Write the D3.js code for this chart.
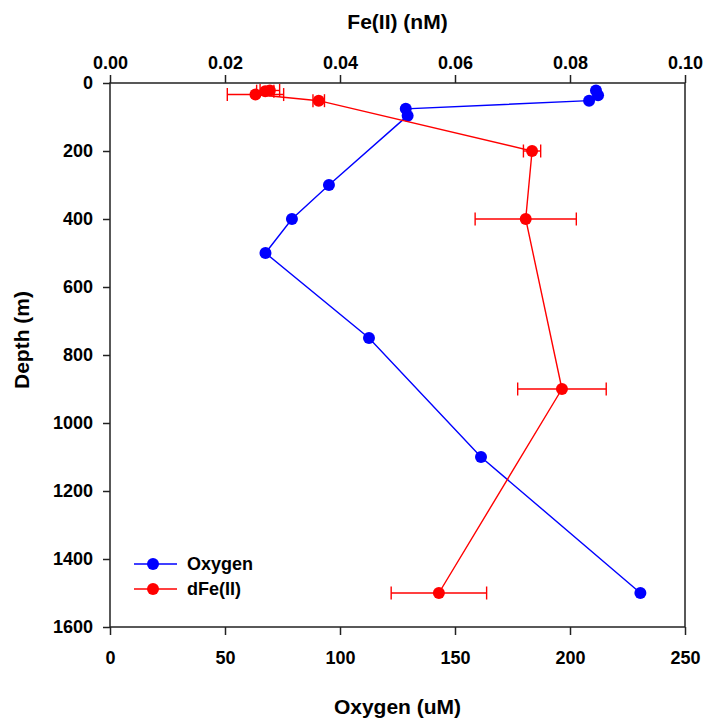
<!DOCTYPE html>
<html>
<head>
<meta charset="utf-8">
<script src="https://cdn.jsdelivr.net/npm/d3@7"></script>
<style>
  html, body { margin: 0; padding: 0; background: #fff; }
  #chart text { font-family: 'Liberation Sans', Arial, sans-serif; font-weight: bold; fill: #000; }
</style>
</head>
<body>
<div id="chart"></div>
<script>
// depth profile: oxygen (bottom axis) and dFe(II) (top axis) vs depth

const oxyDepth = [22, 36, 52, 76, 96, 300, 400, 500, 750, 1100, 1500];
const oxyValue = [211.3, 212.2, 208.3, 128.6, 129.4, 95.2, 79.1, 67.6, 112.6, 161.3, 230.6];

const feDepth = [22, 24, 34, 52, 200, 400, 900, 1500];
const feValue = [0.0278, 0.0270, 0.0253, 0.0363, 0.0734, 0.0723, 0.0786, 0.0572];
const feError = [0.0017, 0.0015, 0.0049, 0.0010, 0.0015, 0.0088, 0.0077, 0.0083];

const oxyTicks = [0, 50, 100, 150, 200, 250];
const feTicks = [0, 0.02, 0.04, 0.06, 0.08, 0.10];
const depthTicks = [0, 200, 400, 600, 800, 1000, 1200, 1400, 1600];

const seriesNames = ['Oxygen', 'dFe(II)'];
const seriesColors = ['#0000ff', '#ff0000'];

function renderProfile() {
  const W = 704, H = 719;
  const left = 110, right = 685, top = 83, bottom = 627;
  const R = 6; // marker radius

  const svg = d3.select('#chart').append('svg')
    .attr('width', W)
    .attr('height', H);

  const x = d3.scaleLinear().domain([0, 250]).range([left, right]);
  const xFe = d3.scaleLinear().domain([0, 0.1]).range([left, right]);
  const y = d3.scaleLinear().domain([0, 1600]).range([top, bottom]);

  // frame
  svg.append('rect')
    .attr('x', left).attr('y', top)
    .attr('width', right - left).attr('height', bottom - top)
    .attr('fill', 'none')
    .attr('stroke', '#222')
    .attr('stroke-width', 1.5);

  // axes
  const axisStyle = g => {
    g.select('.domain').remove();
    g.selectAll('.tick line').attr('stroke', '#222').attr('stroke-width', 1.5);
    g.selectAll('.tick text').style('font-size', '18px');
  };

  svg.append('g')
    .attr('transform', `translate(0,${bottom})`)
    .call(d3.axisBottom(x).tickValues(oxyTicks).tickSize(8).tickPadding(16).tickFormat(d3.format('d')))
    .call(axisStyle);

  svg.append('g')
    .attr('transform', `translate(0,${top})`)
    .call(d3.axisTop(xFe).tickValues(feTicks).tickSize(8).tickPadding(6).tickFormat(d3.format('.2f')))
    .call(axisStyle);

  svg.append('g')
    .attr('transform', `translate(${left},0)`)
    .call(d3.axisLeft(y).tickValues(depthTicks).tickSize(7).tickPadding(10).tickFormat(d3.format('d')))
    .call(axisStyle);

  // axis titles
  svg.append('text')
    .attr('x', (left + right) / 2).attr('y', 29)
    .attr('text-anchor', 'middle')
    .style('font-size', '21px')
    .text('Fe(II) (nM)');

  svg.append('text')
    .attr('x', (left + right) / 2).attr('y', 714)
    .attr('text-anchor', 'middle')
    .style('font-size', '21px')
    .text('Oxygen (uM)');

  svg.append('text')
    .attr('transform', 'translate(29,340) rotate(-90)')
    .attr('text-anchor', 'middle')
    .style('font-size', '21px')
    .text('Depth (m)');

  // oxygen series
  const oxy = oxyDepth.map((d, i) => ({ depth: d, value: oxyValue[i] }));
  svg.append('path')
    .datum(oxy)
    .attr('fill', 'none')
    .attr('stroke', seriesColors[0])
    .attr('stroke-width', 1.4)
    .attr('d', d3.line().x(d => x(d.value)).y(d => y(d.depth)));

  svg.append('g').selectAll('circle')
    .data(oxy)
    .enter().append('circle')
    .attr('cx', d => x(d.value))
    .attr('cy', d => y(d.depth))
    .attr('r', R)
    .attr('fill', seriesColors[0]);

  // dFe(II) series with error bars
  const fe = feDepth.map((d, i) => ({ depth: d, value: feValue[i], err: feError[i] }));
  const errG = svg.append('g')
    .attr('stroke', seriesColors[1])
    .attr('stroke-width', 1.4);

  fe.forEach(d => {
    const cy = y(d.depth);
    const x0 = xFe(d.value - d.err), x1 = xFe(d.value + d.err);
    errG.append('line').attr('x1', x0).attr('x2', x1).attr('y1', cy).attr('y2', cy);
    errG.append('line').attr('x1', x0).attr('x2', x0).attr('y1', cy - 6.5).attr('y2', cy + 6.5);
    errG.append('line').attr('x1', x1).attr('x2', x1).attr('y1', cy - 6.5).attr('y2', cy + 6.5);
  });

  svg.append('path')
    .datum(fe)
    .attr('fill', 'none')
    .attr('stroke', seriesColors[1])
    .attr('stroke-width', 1.4)
    .attr('d', d3.line().x(d => xFe(d.value)).y(d => y(d.depth)));

  svg.append('g').selectAll('circle')
    .data(fe)
    .enter().append('circle')
    .attr('cx', d => xFe(d.value))
    .attr('cy', d => y(d.depth))
    .attr('r', R)
    .attr('fill', seriesColors[1]);

  // legend
  const legend = svg.append('g').attr('transform', 'translate(134,564)');
  seriesNames.forEach((name, i) => {
    const row = legend.append('g').attr('transform', `translate(0,${i * 25})`);
    row.append('line')
      .attr('x1', 0).attr('x2', 43)
      .attr('stroke', seriesColors[i])
      .attr('stroke-width', 1.4);
    row.append('circle')
      .attr('cx', 19).attr('r', R)
      .attr('fill', seriesColors[i]);
    row.append('text')
      .attr('x', 53).attr('dy', '0.35em')
      .style('font-size', '18px')
      .text(name);
  });
}

renderProfile();
</script>
</body>
</html>
